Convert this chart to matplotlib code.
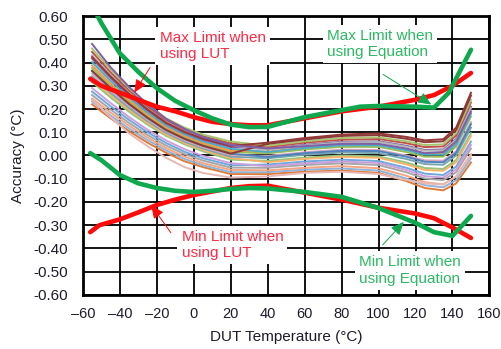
import matplotlib.pyplot as plt
from matplotlib.ticker import FixedLocator

plt.rcParams['font.family'] = ['Liberation Sans', 'DejaVu Sans']
plt.rcParams['axes.unicode_minus'] = False

# temperature points of the measured DUT curves
temp = [-55, -45, -35, -25, -15, -5, 5, 20, 40, 60, 80, 100, 115, 125, 135, 142, 150]

# measured accuracy of each device (degC)
dut_curves = [
    [.220, .160, .105, .055, .012, -.025, -.050, -.080, -.08, -.07, -.065, -.075, -.11, -.14, -.15, -.12, -.03],
    [.232, .172, .116, .066, .022, -.015, -.042, -.072, -.072, -.061, -.056, -.065, -.099, -.128, -.137, -.106, -.012],
    [.245, .185, .128, .077, .032, -.005, -.033, -.062, -.064, -.053, -.046, -.055, -.087, -.115, -.124, -.091, .006],
    [.260, .198, .140, .088, .043, .006, -.022, -.052, -.053, -.041, -.034, -.041, -.072, -.099, -.106, -.072, .030],
    [.275, .212, .153, .100, .054, .016, -.012, -.042, -.039, -.026, -.018, -.024, -.053, -.078, -.084, -.048, .060],
    [.290, .226, .165, .111, .065, .027, -.002, -.033, -.046, -.034, -.026, -.032, -.062, -.089, -.095, -.060, .045],
    [.316, .250, .188, .133, .085, .048, .018, -.018, -.023, -.009, .000, -.004, -.030, -.054, -.058, -.019, .096],
    [.328, .260, .197, .140, .091, .054, .024, -.011, -.029, -.015, -.006, -.010, -.038, -.062, -.066, -.029, .084],
    [.340, .270, .205, .148, .098, .060, .030, -.005, -.012, .003, .013, .010, -.015, -.037, -.040, .000, .120],
    [.352, .280, .214, .155, .104, .066, .036, .002, -.002, .014, .025, .024, .000, -.021, -.022, .019, .144],
    [.364, .290, .222, .162, .110, .072, .042, .008, -.006, .010, .020, .019, -.005, -.027, -.029, .012, .135],
    [.376, .300, .231, .169, .116, .078, .048, .015, .009, .026, .037, .037, .015, -.005, -.005, .038, .168],
    [.388, .310, .239, .177, .123, .084, .054, .021, .017, .034, .047, .047, .027, .008, .008, .053, .186],
    [.402, .322, .249, .185, .130, .091, .061, .029, .015, .032, .044, .044, .023, .004, .004, .048, .180],
    [.417, .334, .259, .194, .138, .098, .068, .037, .028, .046, .059, .061, .042, .024, .026, .072, .210],
    [.431, .346, .270, .203, .145, .106, .076, .044, .025, .043, .056, .058, .038, .020, .022, .067, .204],
    [.446, .358, .280, .211, .153, .113, .083, .052, .036, .055, .068, .071, .053, .036, .039, .086, .228],
    [.460, .370, .290, .220, .160, .120, .090, .060, .042, .061, .075, .078, .061, .045, .048, .096, .240],
    [.424, .340, .265, .198, .141, .102, .072, .041, .055, .075, .090, .095, .080, .065, .070, .120, .270],
    [.364, .290, .222, .162, .110, .072, .042, .008, .050, .069, .084, .088, .072, .057, .061, .110, .258],
    [.480, .380, .295, .220, .158, .115, .080, .045, .030, .040, .050, .050, .030, .010, .015, .060, .190],
    [.240, .165, .095, .040, -.010, -.050, -.075, -.095, -.090, -.075, -.070, -.080, -.105, -.120, -.125, -.090, .000],
]
dut_colors = ['#E07B39', '#8FB3D9', '#F4A582', '#A6A6A6', '#6FA8DC', '#C9A0DC',
              '#93C47D', '#F6B26B', '#76A5AF', '#D5A6BD', '#4F81BD', '#9BBB59',
              '#F79646', '#4BACC6', '#8064A2', '#B7B7B7', '#C0504D', '#A9C46C',
              '#953735', '#8B3A3A', '#7F5FA8', '#E6B8B7']

# limit curves
lut_max_t = [-56, -50, -40, -30, -20, -10, 0, 10, 20, 30, 40, 60, 80, 100, 120, 130, 140, 150]
lut_max_v = [.33, .30, .27, .24, .21, .19, .165, .145, .135, .13, .13, .16, .19, .21, .24, .26, .30, .355]
lut_min_t = [-56, -51, -40, -30, -20, -10, 0, 10, 20, 30, 40, 60, 80, 100, 120, 130, 140, 150]
lut_min_v = [-.33, -.30, -.275, -.245, -.213, -.19, -.17, -.155, -.14, -.132, -.13, -.16, -.19, -.225, -.25, -.27, -.31, -.355]
eq_max_t = [-56, -50, -40, -30, -20, -10, 0, 10, 20, 30, 40, 60, 80, 90, 100, 120, 130, 138, 150]
eq_max_v = [.66, .57, .44, .36, .29, .235, .195, .16, .133, .122, .123, .165, .195, .21, .213, .21, .206, .27, .455]
eq_min_t = [-56, -50, -40, -30, -20, -10, 0, 10, 20, 30, 40, 60, 80, 100, 120, 130, 140, 150]
eq_min_v = [.01, -.02, -.084, -.12, -.14, -.152, -.157, -.152, -.144, -.14, -.142, -.157, -.178, -.226, -.29, -.33, -.346, -.26]

x_ticks = [-60, -40, -20, 0, 20, 40, 60, 80, 100, 120, 140, 160]
y_ticks = [-0.6, -0.5, -0.4, -0.3, -0.2, -0.1, 0.0, 0.1, 0.2, 0.3, 0.4, 0.5, 0.6]

RED = '#FF0A0A'
GREEN = '#10A84E'
RED_TXT = '#FF2A45'
GREEN_TXT = '#2DB863'

fig = plt.figure(figsize=(5.02, 3.49), dpi=100)
ax = fig.add_axes([0.165, 0.155, 0.810, 0.799])

for vals, c in zip(dut_curves, dut_colors):
    ax.plot(temp, vals, color=c, lw=1.4, zorder=2)

ax.plot(lut_max_t, lut_max_v, color=RED, lw=3.3, zorder=4, solid_capstyle='round')
ax.plot(lut_min_t, lut_min_v, color=RED, lw=3.3, zorder=4, solid_capstyle='round')
ax.plot(eq_max_t, eq_max_v, color=GREEN, lw=3.3, zorder=4, solid_capstyle='round')
ax.plot(eq_min_t, eq_min_v, color=GREEN, lw=3.3, zorder=4, solid_capstyle='round')

ax.set_xlim(-60, 160)
ax.set_ylim(-0.6, 0.6)
ax.xaxis.set_major_locator(FixedLocator(x_ticks))
ax.yaxis.set_major_locator(FixedLocator(y_ticks))
ax.set_xticklabels([('\u2013%d' % -t) if t < 0 else '%d' % t for t in x_ticks])
ax.set_yticklabels(['%.2f' % v for v in y_ticks])
ax.tick_params(length=0, labelsize=11, labelcolor='#1c1c2c')
ax.tick_params(axis='y', pad=11)
ax.tick_params(axis='x', pad=9, labelsize=10.5)

ax.set_axisbelow(True)
ax.grid(True, color='black', lw=1.3)
for s in ax.spines.values():
    s.set_linewidth(2.0)
    s.set_color('black')

ax.set_xlabel('DUT Temperature (\u00b0C)', fontsize=11, color='#1c1c2c', labelpad=6)
ax.set_ylabel('Accuracy (\u00b0C)', fontsize=11, color='#1c1c2c', labelpad=6)

box = dict(facecolor='white', edgecolor='none', pad=3)
ax.text(-18.5, 0.535, 'Max Limit when\nusing LUT', color=RED_TXT, fontsize=11,
        va='top', ha='left', bbox=box, zorder=5)
ax.text(72, 0.545, 'Max Limit when\nusing Equation', color=GREEN_TXT, fontsize=11,
        va='top', ha='left', bbox=box, zorder=5)
ax.text(-6.6, -0.32, 'Min Limit when\nusing LUT', color=RED_TXT, fontsize=11,
        va='top', ha='left', bbox=box, zorder=5)
ax.text(89.3, -0.43, 'Min Limit when\nusing Equation', color=GREEN_TXT, fontsize=11,
        va='top', ha='left', bbox=box, zorder=5)

arrow = '-|>,head_length=0.8,head_width=0.35'
ax.annotate('', xy=(-33, 0.26), xytext=(-22.8, 0.389),
            arrowprops=dict(arrowstyle=arrow, color=RED, lw=0.7), zorder=6)
ax.annotate('', xy=(129.8, 0.213), xytext=(101.2, 0.355),
            arrowprops=dict(arrowstyle=arrow, color=GREEN, lw=0.7), zorder=6)
ax.annotate('', xy=(-23.9, -0.204), xytext=(-11.5, -0.342),
            arrowprops=dict(arrowstyle=arrow, color=RED, lw=0.7), zorder=6)
ax.annotate('', xy=(114.7, -0.277), xytext=(101.2, -0.394),
            arrowprops=dict(arrowstyle=arrow, color=GREEN, lw=0.7), zorder=6)

fig.savefig('out.png', dpi=100, facecolor='white')
